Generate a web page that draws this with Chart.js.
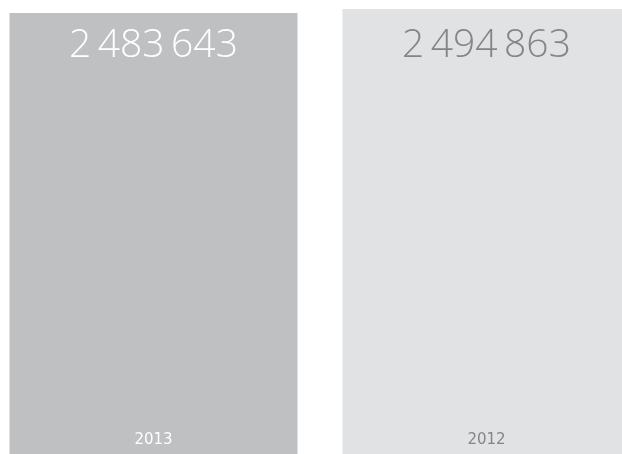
<!DOCTYPE html>
<html>
<head>
<meta charset="utf-8">
<script src="https://cdn.jsdelivr.net/npm/chart.js@4"></script>
<style>
    html, body { margin: 0; padding: 0; background: #ffffff; overflow: hidden; }
    #wrap { position: absolute; left: -13px; top: 0; width: 666px; height: 454px; }
</style>
</head>
<body>
<div id="wrap"><canvas id="chart"></canvas></div>
<script>
// Data
const years = ['2013', '2012'];
const totals = [2483643, 2494863];
const barColors = ['#bfc0c2', '#e1e2e4'];
const textColors = ['#ffffff', '#858585'];

// "2 483 643" style with thin spaces
function formatTotal(value) {
    return String(value).replace(/\B(?=(\d{3})+(?!\d))/g, '\u2009');
}

const barLabels = {
    id: 'barLabels',
    afterDatasetsDraw(chart) {
        const ctx = chart.ctx;
        const meta = chart.getDatasetMeta(0);
        ctx.save();
        ctx.textAlign = 'center';
        ctx.textBaseline = 'alphabetic';
        meta.data.forEach((bar, i) => {
            ctx.fillStyle = textColors[i];
            // value near top of bar
            ctx.font = '300 39px "Open Sans"';
            ctx.fillText(formatTotal(totals[i]), bar.x, 57);
            // year at the bottom of bar
            ctx.font = '15px "DejaVu Sans"';
            ctx.fillText(years[i], bar.x, chart.chartArea.bottom - 10);
        });
        ctx.restore();
    }
};

new Chart(document.getElementById('chart'), {
    type: 'bar',
    data: {
        labels: years,
        datasets: [{
            data: totals,
            backgroundColor: barColors,
            borderWidth: 0,
            categoryPercentage: 1,
            barPercentage: 288 / 333
        }]
    },
    options: {
        responsive: true,
        maintainAspectRatio: false,
        animation: false,
        layout: { padding: 0 },
        plugins: {
            legend: { display: false },
            tooltip: { enabled: false }
        },
        scales: {
            x: { display: false },
            y: { display: false, min: 1250000, max: 2520000 }
        }
    },
    plugins: [barLabels]
});
</script>
</body>
</html>
